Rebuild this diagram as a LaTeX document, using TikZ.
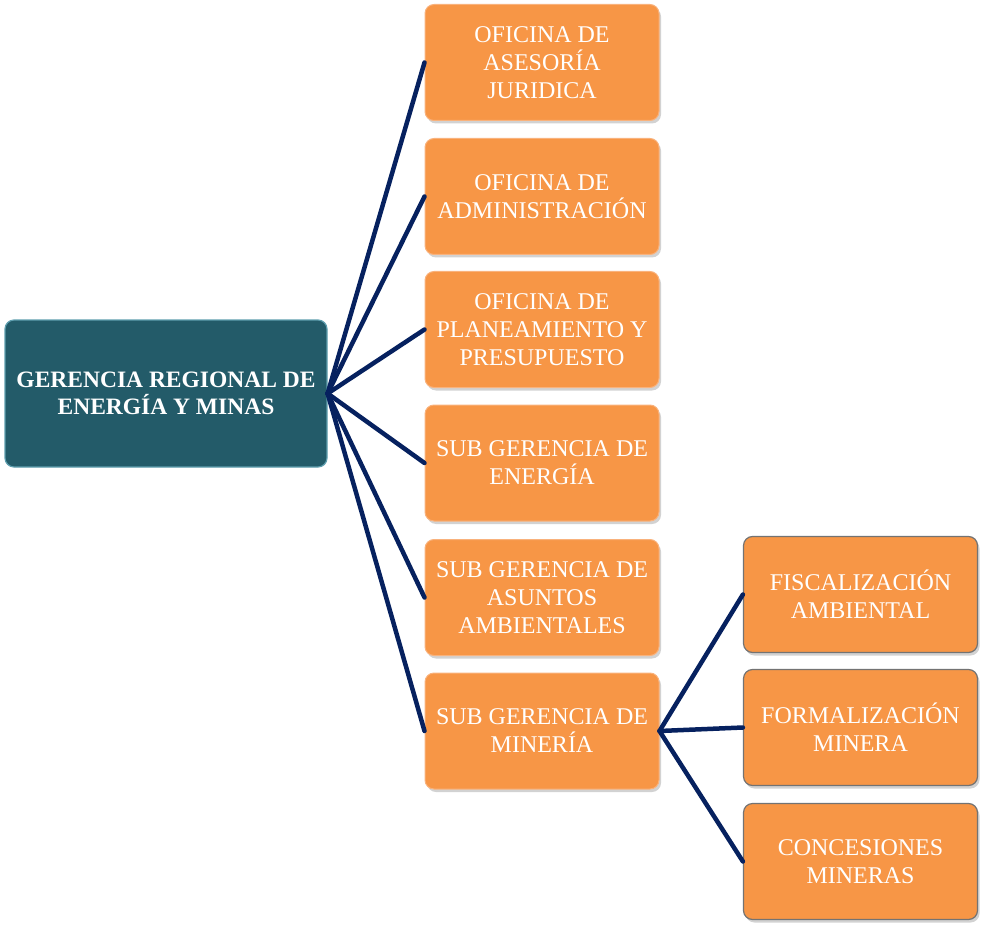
\documentclass[tikz,border=0pt]{standalone}
\usepackage{fontspec}
\setmainfont{Liberation Serif}
\usetikzlibrary{shadows}
\definecolor{rootfill}{HTML}{235B69}
\definecolor{rootedge}{HTML}{5E9EAE}
\definecolor{unitfill}{HTML}{F79646}
\definecolor{unitedge}{HTML}{F9B27C}
\definecolor{linkcol}{HTML}{06215F}
\tikzset{
  root/.style={draw=rootedge, line width=1.2pt, fill=rootfill, rounded corners=9pt,
    minimum width=322pt, minimum height=147pt, text=white, align=center,
    font=\fontsize{23.5}{27}\selectfont\bfseries, inner sep=0pt},
  unit/.style={draw=unitedge, line width=1pt, fill=unitfill, rounded corners=9pt,
    minimum width=234pt, minimum height=116pt, text=white, align=center,
    font=\fontsize{24}{28}\selectfont, inner sep=0pt,
    drop shadow={shadow xshift=2pt, shadow yshift=-3pt, fill=black!35, opacity=0.5}},
  subunit/.style={unit, draw=black!55, line width=1.2pt},
  link/.style={draw=linkcol, line width=4.5pt, line cap=round},
}
\begin{document}
\begin{tikzpicture}[x=1pt, y=-1pt]
  \useasboundingbox (0,0) rectangle (982,925);
  % head office
  \node[root] (gr) at (166,393.5) {GERENCIA REGIONAL DE\\ENERGÍA Y MINAS};
  % first level units
  \node[unit] (a1) at (542,62.5)  {OFICINA DE\\ASESORÍA\\JURIDICA};
  \node[unit] (a2) at (542,196.5) {OFICINA DE\\ADMINISTRACIÓN};
  \node[unit] (a3) at (542,329.5) {OFICINA DE\\PLANEAMIENTO Y\\PRESUPUESTO};
  \node[unit] (a4) at (542,463)   {SUB GERENCIA DE\\ENERGÍA};
  \node[unit] (a5) at (542,597.5) {SUB GERENCIA DE\\ASUNTOS\\AMBIENTALES};
  \node[unit] (a6) at (542,731)   {SUB GERENCIA DE\\MINERÍA};
  % second level units
  \node[subunit] (b1) at (860.5,594.5) {FISCALIZACIÓN\\AMBIENTAL};
  \node[subunit] (b2) at (860.5,727.5) {FORMALIZACIÓN\\MINERA};
  \node[subunit] (b3) at (860.5,861.5) {CONCESIONES\\MINERAS};
  % connectors
  \foreach \t in {a1,a2,a3,a4,a5,a6}
    \draw[link] (gr.east) -- (\t.west);
  \foreach \t in {b1,b2,b3}
    \draw[link] (a6.east) -- (\t.west);
\end{tikzpicture}
\end{document}
